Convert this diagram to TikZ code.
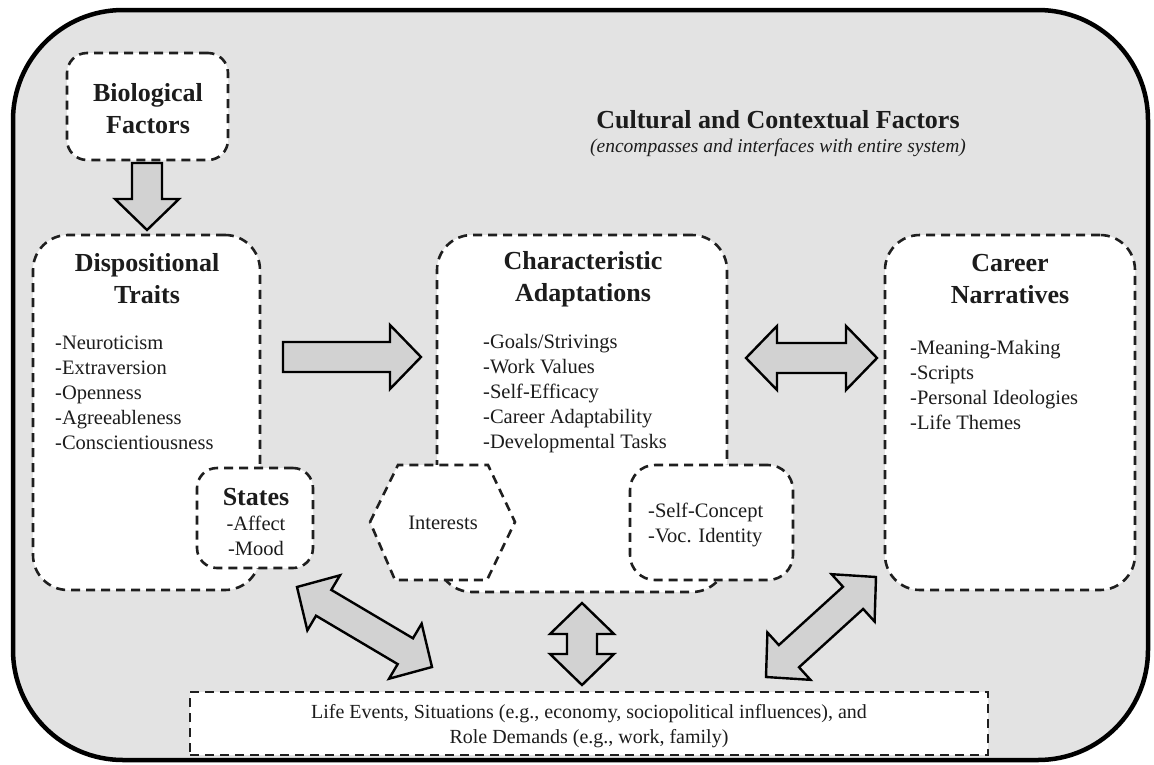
\documentclass[tikz,border=0pt]{standalone}
\usepackage{fontspec}
\setmainfont{Liberation Serif}
\usetikzlibrary{calc}
\definecolor{bggray}{HTML}{E3E3E3}
\definecolor{arrgray}{HTML}{D2D2D2}
\definecolor{txt}{HTML}{1C1C1C}
\newcommand{\barrow}[5]{%
  \pgfmathsetmacro\bang{atan2((#2)-(#4),(#3)-(#1))}%
  \pgfmathsetmacro\blen{veclen((#3)-(#1),(#4)-(#2))}%
  \pgfmathsetmacro\bhe{\blen-31}%
  \begin{scope}[shift={(#1,#2)},rotate=\bang]
    \ifnum#5=2
      \draw[blk] (0,0) -- (31,32) -- (31,15) -- (\bhe,15) -- (\bhe,32) -- (\blen,0) -- (\bhe,-32) -- (\bhe,-15) -- (31,-15) -- (31,-32) -- cycle;
    \else
      \draw[blk] (0,15) -- (\bhe,15) -- (\bhe,32) -- (\blen,0) -- (\bhe,-32) -- (\bhe,-15) -- (0,-15) -- cycle;
    \fi
  \end{scope}}
\begin{document}
\begin{tikzpicture}[x=1pt,y=-1pt,
  dbox/.style={draw=black!88, fill=white, line width=2.6pt, dash pattern=on 9pt off 6pt},
  blk/.style={draw=black, fill=arrgray, line width=2.4pt, line join=miter},
  ttl/.style={font=\fontsize{26}{32}\selectfont\bfseries, align=center, text=txt, inner sep=0},
  lst/.style={font=\fontsize{20.5}{25}\selectfont, align=left, text=txt, inner sep=0, anchor=west},
  ctr/.style={font=\fontsize{20.5}{25}\selectfont, align=center, text=txt, inner sep=0}]
\useasboundingbox (0,0) rectangle (1154,764);
% outer frame
\draw[line width=4.5pt, fill=bggray, rounded corners=110pt] (13,10) rectangle (1148,760);
% boxes
\node[dbox, rounded corners=20pt, minimum width=161, minimum height=107] (bio) at (147.5,106.5) {};
\node[dbox, rounded corners=35pt, minimum width=227, minimum height=355] (dt) at (146.5,412.5) {};
\node[dbox, rounded corners=35pt, minimum width=290, minimum height=357] (ca) at (582,413.5) {};
\node[dbox, rounded corners=35pt, minimum width=250, minimum height=355] (cn) at (1010,412.5) {};
\node[dbox, rounded corners=20pt, minimum width=116, minimum height=100] (st) at (255,518) {};
\node[dbox, rounded corners=25pt, minimum width=163, minimum height=115] (sc) at (711.5,522.5) {};
\draw[dbox] (370,522) -- (398,465) -- (488,465) -- (515,522) -- (487,580) -- (395,580) -- cycle;
\node[dbox, minimum width=798, minimum height=63] (le) at (589,723.5) {};
% block arrows
\barrow{147}{163}{147}{230}{1}
\barrow{283}{357}{421}{357}{1}
\barrow{746}{358}{877}{358}{2}
\barrow{582}{603}{582}{685}{2}
\barrow{297}{587}{432}{667}{2}
\barrow{766}{677}{876}{577}{2}
% texts
\node[ttl] (bioT) at (148,109) {Biological\\Factors};
\node[font=\fontsize{26}{32}\selectfont\bfseries, text=txt, inner sep=0] (cul) at (778,120) {Cultural and Contextual Factors};
\node[font=\fontsize{19.5}{24}\selectfont\itshape, text=txt, inner sep=0] (culS) at (778,148) {(encompasses and interfaces with entire system)};
\node[ttl] (dtT) at (147,279) {Dispositional\\Traits};
\node[lst] (dtL) at (55,393) {-Neuroticism\\-Extraversion\\-Openness\\-Agreeableness\\-Conscientiousness};
\node[ttl] (stT) at (256,497) {States};
\node[ctr] (stL) at (256,535.5) {-Affect\\-Mood};
\node[ttl] (caT) at (583,279) {Characteristic\\Adaptations};
\node[lst] (caL) at (483,394) {-Goals/Strivings\\-Work Values\\-Self-Efficacy\\-Career Adaptability\\-Developmental Tasks};
\node[ctr] (intT) at (443,523) {Interests};
\node[lst] (scL) at (648,524.5) {-Self-Concept\\-Voc. Identity};
\node[ttl] (cnT) at (1010,279) {Career\\Narratives};
\node[lst] (cnL) at (910,384.5) {-Meaning-Making\\-Scripts\\-Personal Ideologies\\-Life Themes};
\node[font=\fontsize{20}{24.5}\selectfont, align=center, text=txt, inner sep=0] (leT) at (589,726) {Life Events, Situations (e.g., economy, sociopolitical influences), and\\Role Demands (e.g., work, family)};
\end{tikzpicture}
\end{document}
